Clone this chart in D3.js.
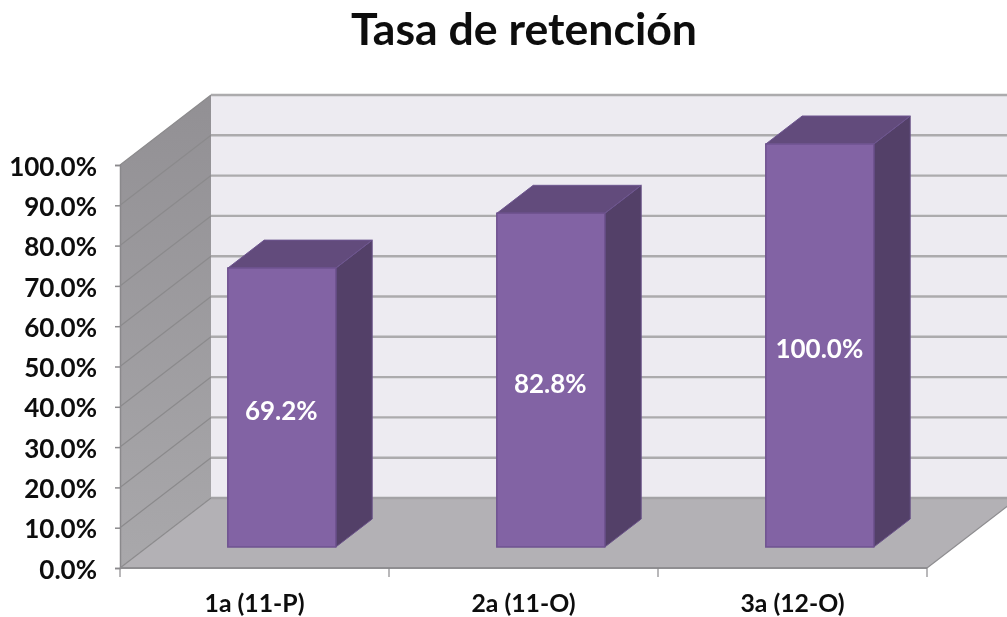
<!DOCTYPE html>
<html><head><meta charset="utf-8">
<script src="https://cdnjs.cloudflare.com/ajax/libs/d3/7.8.5/d3.min.js"></script>
<style>html,body{margin:0;padding:0;background:#fff;overflow:hidden}svg{display:block}
text{font-family:Lato,"Open Sans",sans-serif;font-weight:700;fill:#0a0a0a}</style>
</head><body><svg id="c" width="1007" height="617"></svg>
<script>
const titleText = "Tasa de retención";
const categories = ["1a (11-P)", "2a (11-O)", "3a (12-O)"];
const retention = [69.2, 82.8, 100.0];
const yTicks = [0,10,20,30,40,50,60,70,80,90,100];

const svg=d3.select("#c");
const x=d3.scaleBand().domain(categories).range([120,927]);
const y=d3.scaleLinear().domain([0,100]).range([568,165]);
const DX=91, DY=-70;              // full depth offset of the chart floor
const near=0.3, far=0.7;          // bar's position inside the depth
const barW=108;
const pt=(px,py,d)=>[px+DX*d,py+DY*d];
const poly=(pts)=>pts.map(p=>p.join(",")).join(" ");
const x0=x.range()[0], x1=x.range()[1];
const y0=y(0), yT=y(100);

const defs=svg.append("defs");
const g1=defs.append("linearGradient").attr("id","wall").attr("x1",0).attr("y1",0).attr("x2",0).attr("y2",1);
g1.append("stop").attr("offset","0%").attr("stop-color","#929094");
g1.append("stop").attr("offset","100%").attr("stop-color","#a9a8ab");
const blur=defs.append("filter").attr("id","soft").attr("filterUnits","userSpaceOnUse")
  .attr("x",0).attr("y",0).attr("width",1007).attr("height",617);
blur.append("feGaussianBlur").attr("stdDeviation",0.45);

const root=svg.append("g").attr("filter","url(#soft)");

// back wall
root.append("polygon").attr("points",poly([pt(x0,yT,1),pt(x1,yT,1),pt(x1,y0,1),pt(x0,y0,1)])).attr("fill","#edebf1");
// left wall
root.append("polygon").attr("points",poly([pt(x0,yT,0),pt(x0,yT,1),pt(x0,y0,1),pt(x0,y0,0)])).attr("fill","url(#wall)");
// floor
root.append("polygon").attr("points",poly([pt(x0,y0,0),pt(x0,y0,1),pt(x1,y0,1),pt(x1,y0,0)])).attr("fill","#b3b1b5");

// grid lines on back + side wall
yTicks.forEach(t=>{
  const a=pt(x0,y(t),0), b=pt(x0,y(t),1), c=pt(x1,y(t),1);
  root.append("line").attr("x1",a[0]).attr("y1",a[1]).attr("x2",b[0]).attr("y2",b[1]).attr("stroke","#8b8a8c").attr("stroke-width",1.2);
  root.append("line").attr("x1",b[0]).attr("y1",b[1]).attr("x2",c[0]).attr("y2",c[1]).attr("stroke",t===0?"#a3a2a5":"#acabad").attr("stroke-width",2.4);
});
// floor outer edge
const e1=pt(x1,y0,0), e2=pt(x1,y0,1);
root.append("line").attr("x1",e1[0]).attr("y1",e1[1]).attr("x2",e2[0]).attr("y2",e2[1]).attr("stroke","#8e8d90").attr("stroke-width",1.2);

// axes
const axisY=d3.axisLeft(y).tickValues(yTicks).tickSize(5).tickFormat(d=>d3.format(".1f")(d)+"%");
const gy=root.append("g").attr("transform",`translate(${x0},0)`).call(axisY);
gy.select(".domain").attr("stroke","#8a898c").attr("stroke-width",1.5);
gy.selectAll(".tick line").attr("stroke","#8a898c").attr("stroke-width",1.5);
gy.selectAll(".tick text").attr("x",-23).attr("dy","0.39em").style("font-size","26px").attr("text-anchor","end");

const axisX=d3.axisBottom(x).tickSize(0).tickPadding(0);
const gx=root.append("g").attr("transform",`translate(0,${y0})`).call(axisX);
gx.select(".domain").attr("d",`M${x0},0H${x1}`).attr("stroke","#8f8e91").attr("stroke-width",2);
gx.selectAll(".tick text").attr("y",44).attr("dy",0).style("font-size","24.8px");
gx.selectAll("line.edge").data(d3.range(categories.length+1)).enter().append("line").attr("class","edge")
  .attr("x1",i=>x0+i*x.step()).attr("x2",i=>x0+i*x.step()).attr("y1",0).attr("y2",9).attr("stroke","#8a898c").attr("stroke-width",1.2);

// bars
const bars=root.selectAll("g.bar").data(categories.map((c,i)=>({c,v:retention[i]}))).enter().append("g").attr("class","bar");
const left=d=>x(d.c)+x.bandwidth()/2-barW/2;
const right=d=>left(d)+barW;
bars.append("polygon").attr("points",d=>poly([pt(right(d),y(d.v),near),pt(right(d),y(d.v),far),pt(right(d),y(0),far),pt(right(d),y(0),near)]))
  .attr("fill","#523f68").attr("stroke","#6a5288").attr("stroke-width",1);
bars.append("polygon").attr("points",d=>poly([pt(left(d),y(d.v),near),pt(left(d),y(d.v),far),pt(right(d),y(d.v),far),pt(right(d),y(d.v),near)]))
  .attr("fill","#624b7c").attr("stroke","#6e5690").attr("stroke-width",1);
bars.append("polygon").attr("points",d=>poly([pt(left(d),y(d.v),near),pt(right(d),y(d.v),near),pt(right(d),y(0),near),pt(left(d),y(0),near)]))
  .attr("fill","#8263a4").attr("stroke","#6f5390").attr("stroke-width",1.5);
bars.append("text").attr("x",d=>pt((left(d)+right(d))/2,0,near)[0]-0.5)
  .attr("y",d=>pt(0,(y(d.v)+y(0))/2,near)[1]+3).attr("dy","0.36em").attr("text-anchor","middle")
  .style("font-size","26px").style("fill","#fff").text(d=>d3.format(".1f")(d.v)+"%");

// title
root.append("text").attr("x",524).attr("y",45).attr("text-anchor","middle").style("font-size","44.6px").text(titleText);
</script></body></html>
